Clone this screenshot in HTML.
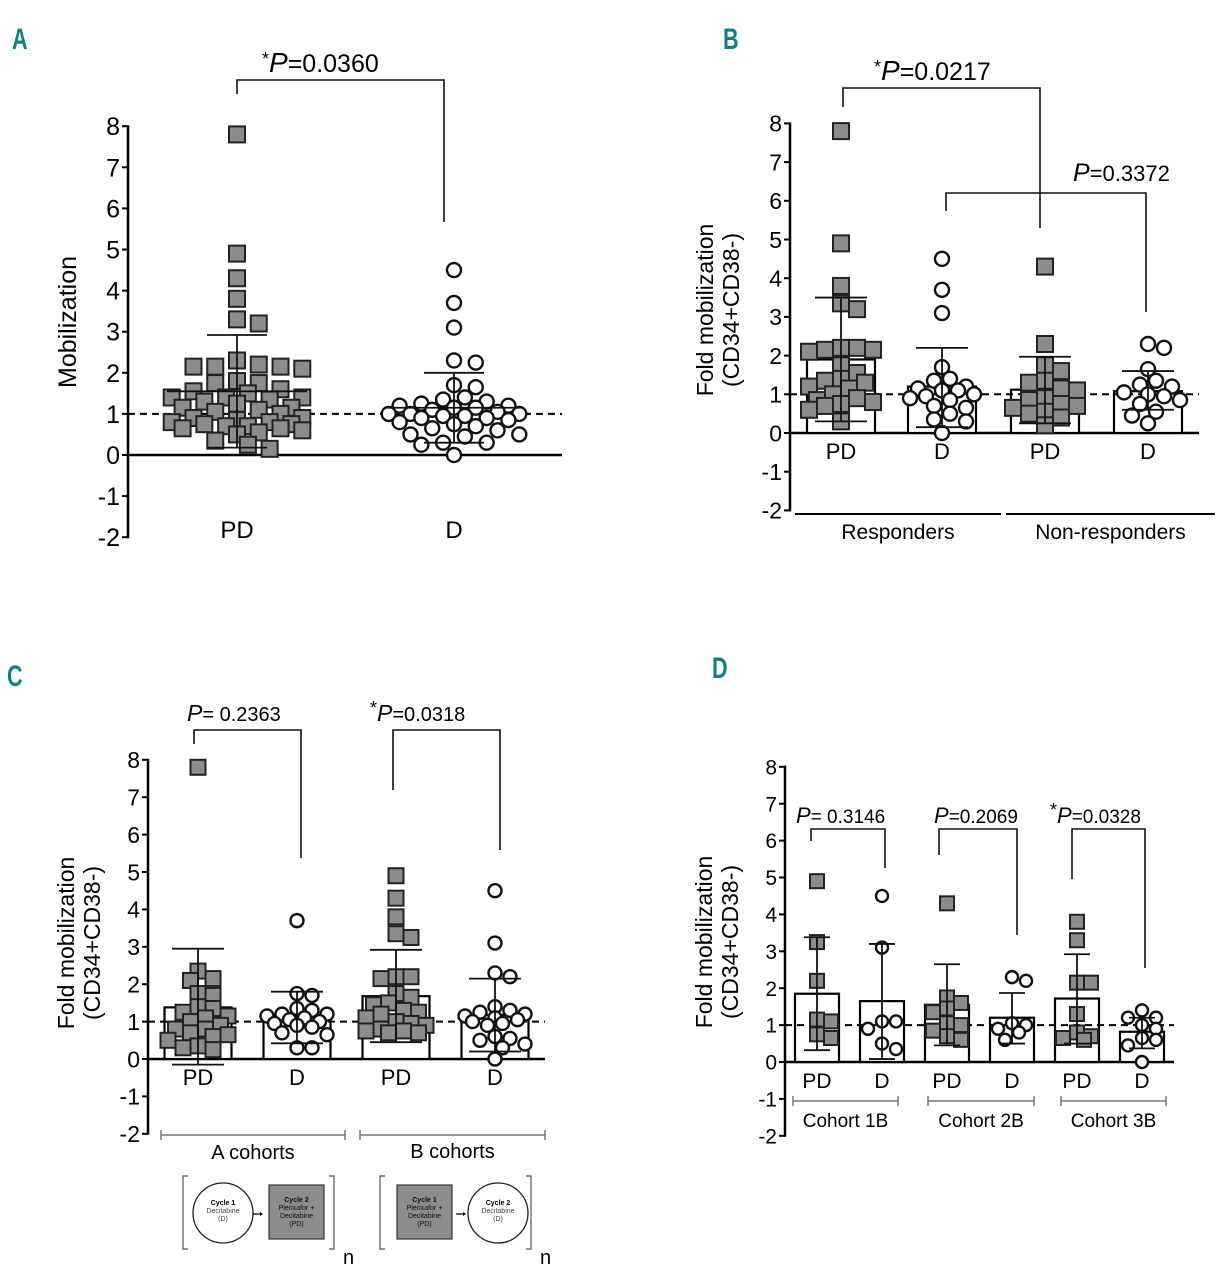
<!DOCTYPE html>
<html><head><meta charset="utf-8"><style>
html,body{margin:0;padding:0;background:#fff;}
svg{display:block;font-family:"Liberation Sans",sans-serif;}
</style></head><body>
<svg id="fig" width="1218" height="1280" viewBox="0 0 1218 1280" xmlns="http://www.w3.org/2000/svg">
<g id="layer"></g>
</svg>
<script>
// ---------- Panel A data ----------
const aCategories = ["PD","D"];
const aPD = [7.8,4.9,4.3,3.8,3.3,3.2,2.3,2.15,2.15,2.1,2.15,2.2,1.75,1.6,1.75,1.8,1.55,1.4,1.4,1.4,1.5,1.35,1.3,1.15,1.1,1.15,1.25,0.9,0.85,0.8,0.75,0.9,0.8,0.7,0.65,0.7,0.6,0.55,0.65,0.75,0.35,0.25,0.15,0.5,1.0,1.05];
const aD = [4.5,3.7,3.1,2.3,2.25,1.7,1.65,1.4,1.35,1.3,1.25,1.2,1.15,1.2,1.15,1.1,1.0,1.05,1.0,0.95,0.9,0.85,0.8,0.75,0.7,0.65,0.6,0.5,0.45,0.3,0.3,0.25,0.5,0.0,1.0,0.95,0.9];
const aMeans = [1.55,1.15];
const aErrLow = [0.18,0.3];
const aErrHigh = [2.92,2.0];
// ---------- Panel B data ----------
const bCategories = ["PD","D","PD","D"];
const bGroups = ["Responders","Non-responders"];
const bRPD = [7.8,4.9,3.8,3.35,3.2,2.2,2.15,2.15,2.2,2.1,1.75,1.55,1.4,1.35,1.3,1.2,1.15,1.0,0.9,0.85,0.75,0.7,0.6,0.3,0.8];
const bRD = [4.5,3.7,3.1,1.7,1.4,1.35,1.2,1.15,1.1,1.0,0.95,0.9,0.85,0.7,0.65,0.5,0.35,0.3,0.0,1.1];
const bNPD = [4.3,2.3,1.75,1.6,1.35,1.3,1.15,1.1,0.9,0.75,0.7,0.65,0.55,0.5,0.4,0.2,0.85];
const bND = [2.3,2.2,1.65,1.35,1.25,1.2,1.05,1.0,0.85,0.75,0.55,0.45,0.25,0.95];
const bMeans = [1.9,1.2,1.12,1.08];
const bErrLow = [0.3,0.15,0.25,0.6];
const bErrHigh = [3.5,2.2,1.97,1.6];
// ---------- Panel C data ----------
const cCategories = ["PD","D","PD","D"];
const cGroups = ["A cohorts","B cohorts"];
const cAPD = [7.8,2.35,2.15,2.1,1.75,1.7,1.4,1.35,1.25,1.15,1.1,1.0,0.9,0.8,0.8,0.7,0.65,0.6,0.35,0.3,0.25,0.5];
const cAD = [3.7,1.75,1.7,1.35,1.3,1.2,1.15,1.1,1.05,1.0,0.95,0.9,0.85,0.7,0.65,0.3,0.3,1.2];
const cBPD = [4.9,4.3,3.8,3.35,3.25,2.2,2.2,2.15,1.75,1.65,1.5,1.45,1.3,1.25,1.2,1.1,1.0,0.9,0.8,0.75,0.7,0.7,0.75,0.95];
const cBD = [4.5,3.1,2.3,2.2,1.4,1.3,1.2,1.15,1.1,1.05,1.0,0.95,0.9,0.6,0.55,0.5,0.4,0.3,0.0,1.25];
const cMeans = [1.38,1.12,1.68,1.18];
const cErrLow = [-0.15,0.42,0.45,0.2];
const cErrHigh = [2.95,1.8,2.92,2.15];
// ---------- Panel D data ----------
const dCategories = ["PD","D","PD","D","PD","D"];
const dGroups = ["Cohort 1B","Cohort 2B","Cohort 3B"];
const d1PD = [4.9,3.25,2.2,1.15,1.1,0.75,0.65];
const d1D = [4.5,3.1,1.1,1.1,0.9,0.5,0.35];
const d2PD = [4.3,1.75,1.6,1.45,1.35,1.05,1.0,0.85,0.6,0.7];
const d2D = [2.3,2.2,1.05,1.0,0.9,0.8,0.6];
const d3PD = [3.8,3.3,2.15,2.15,1.3,0.8,0.65,0.6,0.7];
const d3D = [1.4,1.2,1.2,1.0,0.9,0.6,0.45,0.0,0.65];
const dMeans = [1.85,1.65,1.55,1.2,1.72,0.82];
const dErrLow = [0.32,0.08,0.45,0.5,0.5,0.37];
const dErrHigh = [3.38,3.2,2.65,1.87,2.92,1.2];
const yTicks = [-2,-1,0,1,2,3,4,5,6,7,8];

const NS="http://www.w3.org/2000/svg";
const root=document.getElementById('layer');
function el(tag,attrs,parent,text){const e=document.createElementNS(NS,tag);for(const k in attrs)e.setAttribute(k,attrs[k]);if(text!==undefined)e.textContent=text;(parent||root).appendChild(e);return e;}

function panel(cfg){
  const g=el('g',{});
  
  
  const y=v=>cfg.y0-v*cfg.unit;
  const L=el('text',{x:cfg.letter[0],y:cfg.letter[1],'font-size':30,'font-weight':'bold',fill:'#11807f',transform:`translate(${cfg.letter[0]} ${cfg.letter[1]}) scale(0.72 1) translate(${-cfg.letter[0]} ${-cfg.letter[1]})`},g,cfg.letterText);
  
  
  const ax=el('g',{},g);
  
  
  el('line',{x1:cfg.ax,x2:cfg.ax,y1:y(8)-1,y2:y(-2)+1,stroke:'#000','stroke-width':2.5},ax);
  yTicks.forEach(t=>{
    el('line',{x1:cfg.ax-6,x2:cfg.ax,y1:y(t),y2:y(t),stroke:'#000','stroke-width':2},ax);
    const tx=el('text',{x:cfg.ax-8,y:y(t)+cfg.tickFs*0.36,'font-size':cfg.tickFs,'text-anchor':'end'},ax,String(t));
    
    
  });
  const tt=el('g',{transform:`translate(${cfg.titleX} ${cfg.titleY}) rotate(-90)`},g);
  
  
  cfg.title.forEach((line,i)=>el('text',{x:0,y:i*26,'font-size':cfg.titleFs||23,'text-anchor':'middle'},tt,line));
  const xl=el('line',{x1:cfg.ax,x2:cfg.axEnd,y1:y(0),y2:y(0),stroke:'#000','stroke-width':2.5},g);
  
  
  if(cfg.bars){
    cfg.centers.forEach((cx,i)=>{
      const r=el('rect',{x:cx-cfg.barW/2,y:y(cfg.means[i]),width:cfg.barW,height:y(0)-y(cfg.means[i]),fill:'#fff',stroke:'#000','stroke-width':2.2},g);
      
      
    });
  }
  const dl=el('line',{x1:cfg.ax,x2:cfg.axEnd,y1:y(1),y2:y(1),stroke:'#000','stroke-width':2,'stroke-dasharray':'7,5'},g);
  
  
  const step=cfg.step||0.5, thr=cfg.thr||0.78;
  cfg.series.forEach((vals,i)=>{
    const cx=cfg.centers[i];const sq=cfg.cats[i]==='PD';const s=cfg.ms;
    const placed=[];
    const order=vals.map((v,k)=>k).sort((p,q)=>vals[q]-vals[p]);
    order.forEach(k=>{
      const py=y(vals[k]);let best=0,bestD=-1;
      for(let j=0;j<=2*cfg.maxK;j++){
        const off=(j%2?1:-1)*Math.ceil(j/2)*s*step;
        let md=1e9;placed.forEach(p=>{md=Math.min(md,Math.hypot(p[0]-(cx+off),p[1]-py));});
        if(md>=s*thr){best=off;bestD=md;break;}
        if(md>bestD){bestD=md;best=off;}
      }
      placed.push([cx+best,py]);
      let m;
      if(sq){m=el('rect',{x:cx+best-s/2,y:py-s/2,width:s,height:s,fill:'#8c8c8c',stroke:'#222','stroke-width':2},g);}
      else{m=el('circle',{cx:cx+best,cy:py,r:s/2-1,fill:'#fff',stroke:'#111','stroke-width':2.4},g);}
      
      
    });
  });
  cfg.centers.forEach((cx,i)=>{
    const eg=el('g',{stroke:'#111','stroke-width':1.8},g);
    
    
    el('line',{x1:cx,x2:cx,y1:y(cfg.hi[i]),y2:y(cfg.lo[i])},eg);
    el('line',{x1:cx-cfg.cap,x2:cx+cfg.cap,y1:y(cfg.hi[i]),y2:y(cfg.hi[i])},eg);
    el('line',{x1:cx-cfg.cap,x2:cx+cfg.cap,y1:y(cfg.lo[i]),y2:y(cfg.lo[i])},eg);
    if(!cfg.bars){el('line',{x1:cx-cfg.meanW,x2:cx+cfg.meanW,y1:y(cfg.means[i]),y2:y(cfg.means[i])},eg);}
  });
  cfg.centers.forEach((cx,i)=>{
    const t=el('text',{x:cx,y:cfg.catY,'font-size':cfg.catFs,'text-anchor':'middle'},g,cfg.cats[i]);
    
    
  });
  (cfg.groups||[]).forEach(gr=>{
    const gg=el('g',{},g);
    
    
    el('line',{x1:gr.x1,x2:gr.x2,y1:gr.ly,y2:gr.ly,stroke:gr.col,'stroke-width':gr.sw},gg);
    if(gr.ticks){el('line',{x1:gr.x1,x2:gr.x1,y1:gr.ly-5,y2:gr.ly+5,stroke:gr.col,'stroke-width':1.5},gg);el('line',{x1:gr.x2,x2:gr.x2,y1:gr.ly-5,y2:gr.ly+5,stroke:gr.col,'stroke-width':1.5},gg);}
    el('text',{x:(gr.x1+gr.x2)/2,y:gr.ty,'font-size':gr.fs,'text-anchor':'middle'},gg,gr.label);
  });
  cfg.brackets.forEach(b=>{
    const bg=el('g',{},g);
    
    
    el('polyline',{points:`${b.x1},${b.y1} ${b.x1},${b.top} ${b.x2},${b.top} ${b.x2},${b.y2}`,fill:'none',stroke:'#111','stroke-width':1.6},bg);
    const t=el('text',{x:b.tx,y:b.ty,'font-size':b.fs||25},bg);
    if(b.star){el('tspan',{'font-size':18,dy:-7},t,'*');el('tspan',{'font-style':'italic',dy:7,'font-size':(b.fs||25)+3},t,'P');}
    else el('tspan',{'font-style':'italic','font-size':(b.fs||25)+3},t,'P');
    el('tspan',{},t,b.text);
  });
}

panel({name:'panel-a',letterText:'A',letter:[12,49],ax:128,axEnd:562,y0:455,unit:41.1,tickFs:25,titleFs:25,
  titleX:76,titleY:322,title:['Mobilization'],bars:false,centers:[237,454],cats:aCategories,step:0.68,thr:0.92,
  series:[aPD,aD],means:aMeans,lo:aErrLow,hi:aErrHigh,cap:30,meanW:70,ms:16,maxK:6,catY:538,catFs:24,
  brackets:[{x1:237,y1:94,x2:444,y2:222,top:80,tx:262,ty:72,star:true,text:'=0.0360'}]});

panel({name:'panel-b',letterText:'B',letter:[723,49],ax:790,axEnd:1199,y0:433,unit:38.7,tickFs:23,
  titleX:713,titleY:310,title:['Fold mobilization','(CD34+CD38-)'],bars:true,barW:68,centers:[841,942,1045,1148],cats:bCategories,
  series:[bRPD,bRD,bNPD,bND],means:bMeans,lo:bErrLow,hi:bErrHigh,cap:26,ms:16,maxK:4,catY:459,catFs:22,
  groups:[{x1:795,x2:1001,ly:514,ty:539,label:bGroups[0],col:'#000',sw:2,fs:21},{x1:1006,x2:1215,ly:514,ty:539,label:bGroups[1],col:'#000',sw:2,fs:21}],
  brackets:[{x1:843,y1:107,x2:1040,y2:228,top:88,tx:874,ty:80,star:true,text:'=0.0217'},
            {x1:946,y1:211,x2:1146,y2:312,top:193,tx:1073,ty:181,star:false,text:'=0.3372',fs:22}]});

panel({name:'panel-c',letterText:'C',letter:[7,686],ax:148,axEnd:545,y0:1059,unit:37.4,tickFs:23,
  titleX:74,titleY:943,title:['Fold mobilization','(CD34+CD38-)'],bars:true,barW:67,centers:[198,297,396,495],cats:cCategories,
  series:[cAPD,cAD,cBPD,cBD],means:cMeans,lo:cErrLow,hi:cErrHigh,cap:26,ms:15,maxK:4,catY:1085,catFs:22,
  groups:[{x1:161,x2:345,ly:1135,ty:1159,label:cGroups[0],col:'#777',sw:1.5,ticks:true,fs:20},{x1:360,x2:545,ly:1135,ty:1158,label:cGroups[1],col:'#777',sw:1.5,ticks:true,fs:20}],
  brackets:[{x1:194,y1:744,x2:301,y2:858,top:730,tx:187,ty:721,star:false,text:'= 0.2363',fs:20},
            {x1:393,y1:790,x2:500,y2:850,top:730,tx:370,ty:721,star:true,text:'=0.0318',fs:20}]});

panel({name:'panel-d',letterText:'D',letter:[712,678],ax:785,axEnd:1174,y0:1062,unit:36.9,tickFs:21,
  titleX:712,titleY:942,title:['Fold mobilization','(CD34+CD38-)'],bars:true,barW:44,centers:[817,882,947,1012,1077,1142],cats:dCategories,
  series:[d1PD,d1D,d2PD,d2D,d3PD,d3D],means:dMeans,lo:dErrLow,hi:dErrHigh,cap:13,ms:14,maxK:3,catY:1088,catFs:21,
  groups:[{x1:793,x2:898,ly:1101,ty:1127,label:dGroups[0],col:'#777',sw:1.5,ticks:true,fs:19},{x1:928,x2:1034,ly:1101,ty:1127,label:dGroups[1],col:'#777',sw:1.5,ticks:true,fs:19},{x1:1061,x2:1166,ly:1101,ty:1127,label:dGroups[2],col:'#777',sw:1.5,ticks:true,fs:19}],
  brackets:[{x1:811,y1:841,x2:885,y2:868,top:829,tx:796,ty:823,star:false,text:'= 0.3146',fs:19},
            {x1:939,y1:855,x2:1017,y2:935,top:829,tx:934,ty:823,star:false,text:'=0.2069',fs:19},
            {x1:1072,y1:879,x2:1145,y2:968,top:829,tx:1050,ty:823,star:true,text:'=0.0328',fs:19}]});

function schematic(x0,first){
  const g=el('g',{});
  
  
  el('polyline',{points:`${x0+5},1176 ${x0},1176 ${x0},1249 ${x0+5},1249`,fill:'none',stroke:'#555','stroke-width':1.2},g);
  el('polyline',{points:`${x0+146},1176 ${x0+151},1176 ${x0+151},1249 ${x0+146},1249`,fill:'none',stroke:'#555','stroke-width':1.2},g);
  el('text',{x:x0+160,y:1264,'font-size':20},g,'n');
  const circ=(cx,lines)=>{el('circle',{cx:cx,cy:1213,r:30,fill:'#fff',stroke:'#222','stroke-width':1.3},g);
    lines.forEach((l,i)=>el('text',{x:cx,y:1205+i*8,'font-size':7,'text-anchor':'middle','font-weight':i===0?'bold':'normal',fill:i===0?'#000':'#444'},g,l));};
  const box=(x,lines)=>{el('rect',{x:x,y:1185,width:55,height:54,fill:'#8c8c8c',stroke:'#333','stroke-width':1.2},g);
    lines.forEach((l,i)=>el('text',{x:x+27.5,y:1202+i*8,'font-size':7,'text-anchor':'middle','font-weight':i===0?'bold':'normal',fill:'#111'},g,l));};
  if(first){circ(x0+40,['Cycle 1','Decitabine','(D)']);el('line',{x1:x0+70,x2:x0+77,y1:1214,y2:1214,stroke:'#000','stroke-width':1.2},g);el('polygon',{points:`${x0+77},1212 ${x0+80},1214 ${x0+77},1216`},g);box(x0+86,['Cycle 2','Plerixafor +','Decitabine','(PD)']);}
  else{box(x0+17,['Cycle 1','Plerixafor +','Decitabine','(PD)']);el('line',{x1:x0+76,x2:x0+83,y1:1214,y2:1214,stroke:'#000','stroke-width':1.2},g);el('polygon',{points:`${x0+83},1212 ${x0+86},1214 ${x0+83},1216`},g);circ(x0+118,['Cycle 2','Decitabine','(D)']);}
}
schematic(183,true);
schematic(380,false);
</script>
</body></html>
